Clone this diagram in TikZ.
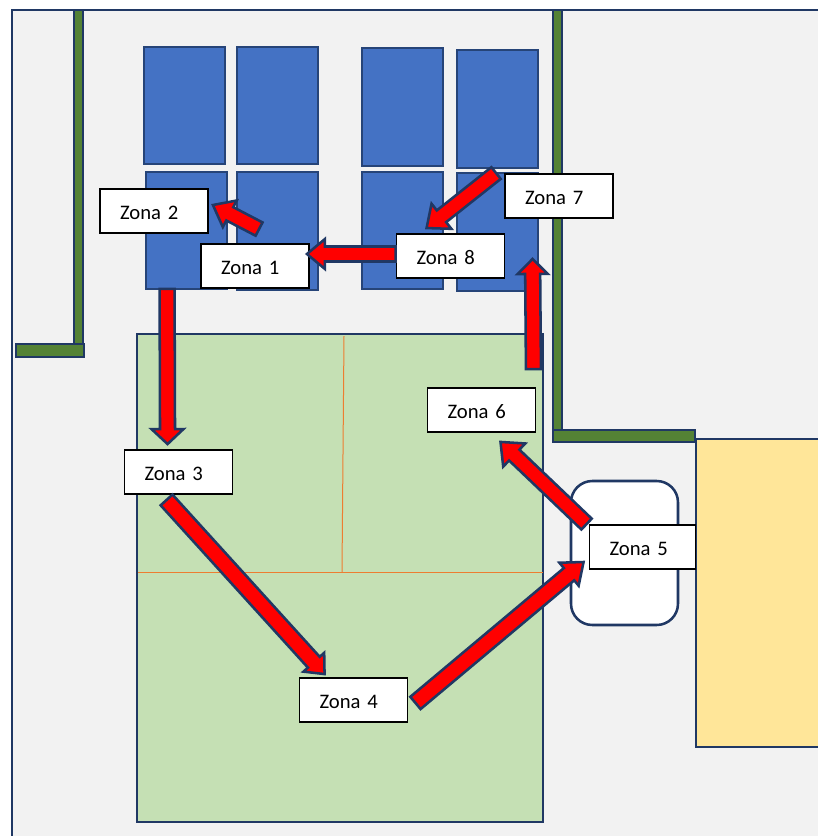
\documentclass[tikz,border=0pt]{standalone}
\usepackage{fontspec}
\setmainfont{Carlito}
\usetikzlibrary{calc}
\definecolor{navy}{HTML}{203864}
\definecolor{blueedge}{HTML}{264478}
\definecolor{bluefill}{HTML}{4472C4}
\definecolor{floorfill}{HTML}{F2F2F2}
\definecolor{greenfill}{HTML}{C5E0B4}
\definecolor{wallfill}{HTML}{548235}
\definecolor{yellowfill}{HTML}{FFE699}
\definecolor{orangeline}{HTML}{ED7D31}
\tikzset{
  wall/.style={draw=navy,fill=wallfill,line width=2.2pt},
  rack/.style={draw=blueedge,fill=bluefill,line width=1.9pt},
  room/.style={draw=navy,line width=1.9pt},
  divider/.style={draw=orangeline,line width=0.75pt},
  zone/.style={draw=black,fill=white,line width=1.4pt,rectangle,inner xsep=15pt,inner ysep=0pt,
    text width=51pt,align=left,minimum height=33pt,text height=12pt,text depth=0pt,
    font=\fontsize{15.5pt}{18pt}\selectfont},
  flow/.style={draw=navy,fill=red,line width=1.9pt,line join=miter}
}
% from, to, shaft half width, head half width, head length
\newcommand{\blockarr}[5]{%
  \coordinate (hb) at ($(#2)!#5*0.75pt!(#1)$);
  \draw[flow]
    ($(#1)!#3*0.75pt!90:(#2)$) --
    ($(hb)!#3*0.75pt!90:(#2)$) --
    ($(hb)!#4*0.75pt!90:(#2)$) --
    (#2) --
    ($(hb)!#4*0.75pt!-90:(#2)$) --
    ($(hb)!#3*0.75pt!-90:(#2)$) --
    ($(#1)!#3*0.75pt!-90:(#2)$) -- cycle;}
\begin{document}
\begin{tikzpicture}[x=0.75pt,y=-0.75pt]
\useasboundingbox (0,0) rectangle (818,836);
\clip (0,0) rectangle (818,836);
% building
\fill[floorfill] (12,10) rectangle (818,836);
\draw[room] (818,10) -- (12,10) -- (12,836);
% walls
\draw[wall] (74,10) rectangle (83,346);
\draw[wall] (16,344) rectangle (84,357);
\draw[wall] (553,10) rectangle (562,432);
\draw[wall] (553,430) rectangle (695,442);
% racks
\draw[rack] (144,47) rectangle (225,164);
\draw[rack] (237,47) rectangle (318,164);
\draw[rack] (362,48) rectangle (443,166);
\draw[rack] (457,50) rectangle (538,168);
\draw[rack] (146,172) rectangle (227,289);
\draw[rack] (237,172) rectangle (318,290);
\draw[rack] (362,172) rectangle (443,289);
\draw[rack] (457,173) rectangle (538,291);
% green area
\draw[room,fill=greenfill] (137,334) rectangle (543,822);
\draw[divider] (344,336) -- (342,572);
\draw[divider] (138,572) -- (543,572);
% dock
\draw[room,fill=yellowfill] (818,439) -- (696,439) -- (696,747) -- (818,747);
\draw[room,fill=white,rounded corners=16pt] (571,481) rectangle (678,625);
% zones
\node[zone] (z1) at (255,266) {Zona 1};
\node[zone] (z2) at (154,211) {Zona 2};
\node[zone] (z3) at (178.5,472) {Zona 3};
\node[zone] (z4) at (353.5,700) {Zona 4};
\node[zone,text width=49.5pt] (z5) at (642.5,547) {Zona 5};
\node[zone] (z6) at (481.5,410) {Zona 6};
\node[zone] (z7) at (559,196) {Zona 7};
\node[zone] (z8) at (450.5,256) {Zona 8};
% connector ends, placed relative to the zones
\coordinate (s12) at ($(z1.north west)+(59,-14)$);
\coordinate (e12) at ($(z2.east)+(4,-6)$);
\coordinate (s81) at ($(z8.west)+(0,-2)$);
\coordinate (e81) at ($(z1.east)+(-3,-12)$);
\coordinate (s23) at ($(z2.south west)+(68,55)$);
\coordinate (e23) at ($(z3.north west)+(44,-5)$);
\coordinate (s34) at ($(z3.south west)+(43,5)$);
\coordinate (e34) at ($(z4.north west)+(26,-3)$);
\coordinate (s45) at ($(z4.south east)+(7,-20)$);
\coordinate (e45) at ($(z5.west)+(-5,15)$);
\coordinate (s56) at ($(z5.north west)+(-2,0)$);
\coordinate (e56) at ($(z6.south)+(19,9)$);
\coordinate (s67) at ($(z6.north east)+(-3,-18)$);
\coordinate (e67) at ($(z7.south west)+(28.5,40)$);
\coordinate (s78) at ($(z7.north west)+(-8,0)$);
\coordinate (e78) at ($(z8.north west)+(31,-5)$);
% flow arrows
\blockarr{s12}{e12}{7.5}{15}{19}
\blockarr{s81}{e81}{7.5}{15}{18}
\blockarr{s23}{e23}{7.5}{16}{15}
\blockarr{s34}{e34}{8}{14}{16}
\blockarr{s45}{e45}{8}{15}{19}
\blockarr{s56}{e56}{7.5}{16}{19}
\blockarr{s67}{e67}{7.5}{15}{15}
\blockarr{s78}{e78}{7.5}{16}{19}
\end{tikzpicture}
\end{document}
